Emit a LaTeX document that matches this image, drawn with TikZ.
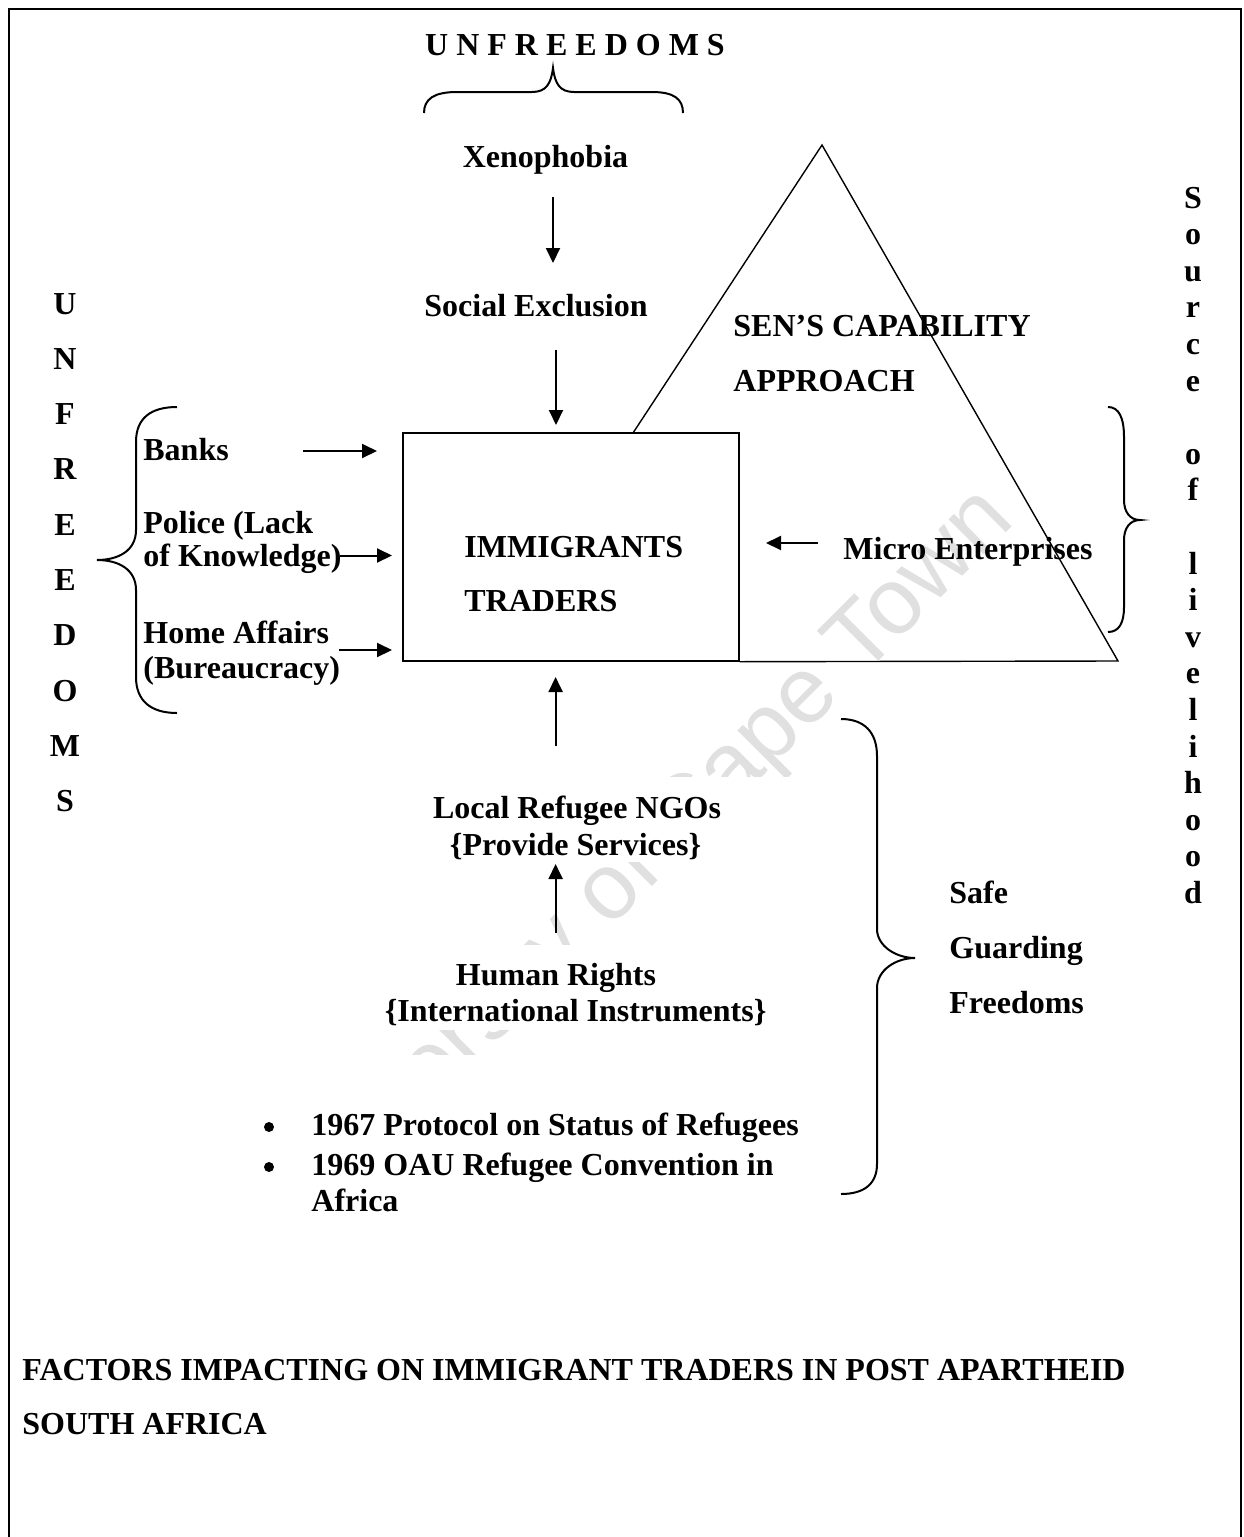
\documentclass[tikz,border=0pt]{standalone}
\usepackage{fontspec}
\setmainfont{Liberation Serif}
\newfontfamily\wmfont{Liberation Sans}
\usetikzlibrary{arrows.meta}
\begin{document}
\begin{tikzpicture}[x=0.5pt,y=-0.5pt,
  txt/.style={font=\fontsize{16}{17}\selectfont\bfseries, inner sep=0pt},
  arr/.style={line width=1pt,-{Triangle[length=7.5pt,width=7pt]}},
  brace/.style={line width=1pt},
  shape line/.style={line width=0.7pt}]
\useasboundingbox (0,0) rectangle (1243,1537);
% watermark, partly hidden by the white text boxes below
\node[rotate=45, text=black!12, inner sep=0pt, font=\wmfont\fontsize{47}{47}\selectfont] (wm) at (641,864) {University of Cape Town};
\fill[white] (425,777) rectangle (800,862);
\fill[white] (380,945) rectangle (790,1030);
\fill[white] (240,1055) rectangle (820,1320);
% frame
\draw[line width=1.35pt] (9,1545) -- (9,9) -- (1241,9) -- (1241,1545);

% top title and brace
\node[txt, anchor=base] (topunf) at (575,55) {U N F R E E D O M S};
\draw[brace] (424,113) .. controls (424,99) and (434,92) .. (457,92) -- (532,92)
  .. controls (546,92) and (551,84) .. (553,68)
  .. controls (555,84) and (560,92) .. (574,92) -- (652,92)
  .. controls (674,92) and (683,99) .. (683,113);

% central column
\node[txt, anchor=base] (xeno) at (545.5,167) {Xenophobia};
\node[txt, anchor=base] (social) at (536,316) {Social Exclusion};
\coordinate (x1) at (553,197); \coordinate (x2) at (553,263);
\draw[arr] (x1) -- (x2);
\coordinate (s1) at (556,350); \coordinate (s2) at (556,425);
\draw[arr] (s1) -- (s2);

% box and triangle
\coordinate (apex) at (822,145);
\coordinate (tl) at (633,433);
\coordinate (br) at (1118,661);
\node[draw, shape line, minimum width=168pt, minimum height=114pt, inner sep=0pt] (box) at (571,547) {};

\node[txt, anchor=base west] (imm) at (464,557) {IMMIGRANTS};
\node[txt, anchor=base west] (trd) at (464,611) {TRADERS};
\node[txt, anchor=base west] (sen) at (733,336) {SEN’S CAPABILITY};
\node[txt, anchor=base west] (appr) at (733,391) {APPROACH};
\node[txt, anchor=base west] (micro) at (843,559) {Micro Enterprises};
\draw[shape line] (tl) -- (apex) -- (br) -- (box.south east);
\coordinate (m1) at (818,543); \coordinate (m2) at (766,543);
\draw[arr] (m1) -- (m2);

% left side
\node[txt, anchor=base west] (banks) at (143,460) {Banks};
\node[txt, anchor=base west] (pol1) at (143,533) {Police (Lack};
\node[txt, anchor=base west] (pol2) at (143,566) {of Knowledge)};
\node[txt, anchor=base west] (home1) at (143,643) {Home Affairs};
\node[txt, anchor=base west] (home2) at (143,678) {(Bureaucracy)};
\coordinate (b1) at (303,451); \coordinate (b2) at (377,451);
\draw[arr] (b1) -- (b2);
\coordinate (p1) at (340,555.5); \coordinate (p2) at (392,555.5);
\draw[arr] (p1) -- (p2);
\coordinate (h1) at (339,650); \coordinate (h2) at (392,650);
\draw[arr] (h1) -- (h2);
\draw[brace] (177,407) .. controls (151,407) and (136,418) .. (136,442) -- (136,530)
  .. controls (136,551) and (118,560) .. (97,560)
  .. controls (118,560) and (136,569) .. (136,590) -- (136,677)
  .. controls (136,701) and (151,713) .. (177,713);
\foreach \l [count=\i from 0] in {U,N,F,R,E,E,D,O,M,S}
  \node[txt, anchor=base] (lv\i) at (65,{314+55.3*\i}) {\l};

% right side
\draw[brace] (1108,407) .. controls (1119,407) and (1124,418) .. (1124,437) -- (1124,500)
  .. controls (1124,512) and (1130,520) .. (1140,520)
  .. controls (1130,520) and (1124,528) .. (1124,540) -- (1124,607)
  .. controls (1124,623) and (1119,632) .. (1108,632);
\foreach \l/\k in {S/0,o/1,u/2,r/3,c/4,e/5,o/7,f/8,l/10,i/11,v/12,e/13,l/14,i/15,h/16,o/17,o/18,d/19}
  \node[txt, anchor=base] (rv\k) at (1193,{208+36.6*\k}) {\l};

% lower column
\node[txt, anchor=base] (ngo1) at (577,818) {Local Refugee NGOs};
\node[txt, anchor=base] (ngo2) at (575.6,855) {\{Provide Services\}};
\node[txt, anchor=base] (hr1) at (556,985) {Human Rights};
\node[txt, anchor=base] (hr2) at (575.6,1021) {\{International Instruments\}};
\coordinate (n1) at (555.6,746); \coordinate (n2) at (555.6,677);
\draw[arr] (n1) -- (n2);
\coordinate (r1) at (555.6,933); \coordinate (r2) at (555.6,864);
\draw[arr] (r1) -- (r2);

\fill (269,1127) circle (5) coordinate (bul1);
\fill (269,1167) circle (5) coordinate (bul2);
\node[txt, anchor=base west] (it1) at (311,1135) {1967 Protocol on Status of Refugees};
\node[txt, anchor=base west] (it2) at (311,1175) {1969 OAU Refugee Convention in};
\node[txt, anchor=base west] (it3) at (311,1211) {Africa};

\draw[brace] (841,719) .. controls (864,719) and (877,732) .. (877,756) -- (877,929)
  .. controls (877,946) and (896,958) .. (915,958)
  .. controls (896,958) and (877,970) .. (877,988) -- (877,1164)
  .. controls (877,1184) and (864,1194) .. (841,1194);
\node[txt, anchor=base west] (safe) at (949,903) {Safe};
\node[txt, anchor=base west] (guard) at (949,958) {Guarding};
\node[txt, anchor=base west] (free) at (949,1013) {Freedoms};

% title
\node[txt, anchor=base west] (title1) at (22,1380) {FACTORS IMPACTING ON IMMIGRANT TRADERS IN POST APARTHEID};
\node[txt, anchor=base west] (title2) at (22,1434) {SOUTH AFRICA};
\end{tikzpicture}
\end{document}
